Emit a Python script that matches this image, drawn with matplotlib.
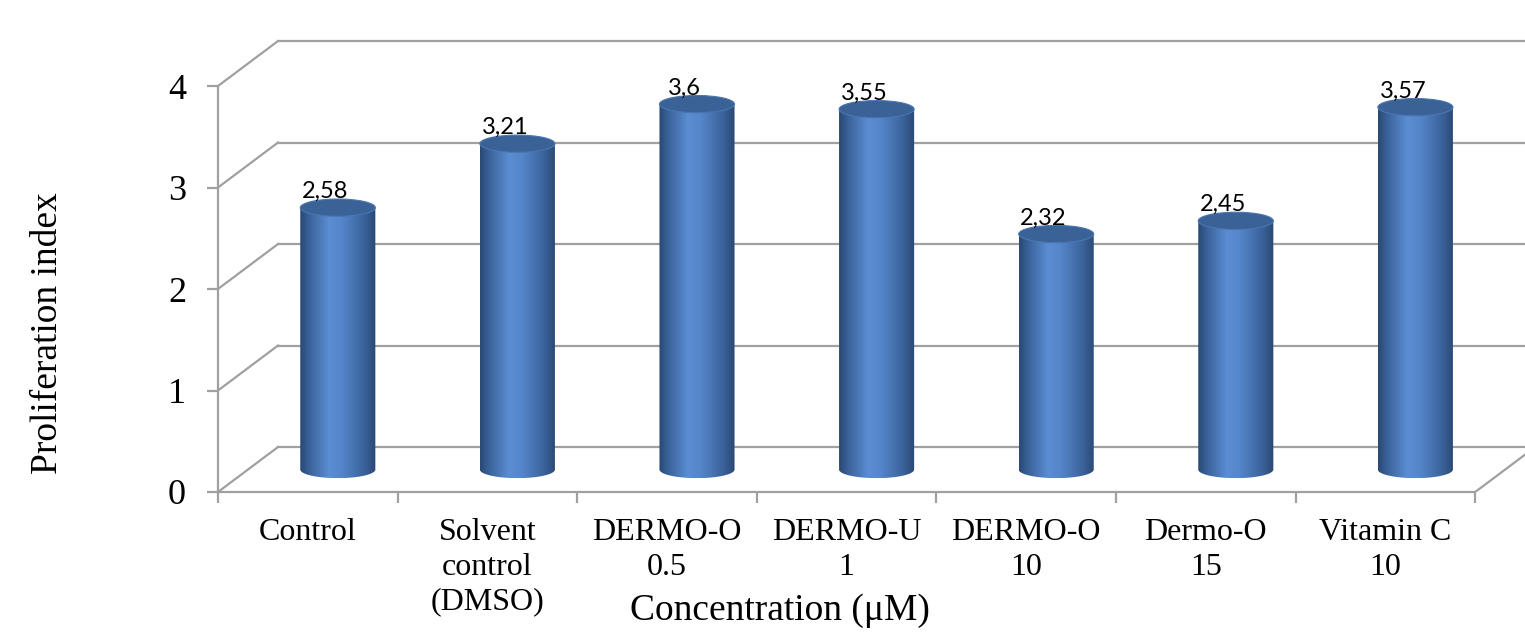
import numpy as np
import matplotlib.pyplot as plt
from matplotlib.patches import Ellipse, PathPatch
from matplotlib.path import Path
from matplotlib.colors import LinearSegmentedColormap

# data
categories = ["Control", "Solvent\ncontrol\n(DMSO)", "DERMO-O\n0.5", "DERMO-U\n1",
              "DERMO-O\n10", "Dermo-O\n15", "Vitamin C\n10"]
values = [2.58, 3.21, 3.6, 3.55, 2.32, 2.45, 3.57]
value_labels = ["2,58", "3,21", "3,6", "3,55", "2,32", "2,45", "3,57"]
y_ticks = [0, 1, 2, 3, 4]

# fake 3D depth (in data units)
dx, dy = 0.334, 0.443
cyl_w = 0.418
ell_h = 0.085
grid_col = "#a0a0a0"
serif = "Liberation Serif"

body_cmap = LinearSegmentedColormap.from_list("cyl", [
    (0.0, "#2a4873"), (0.12, "#3a629a"), (0.38, "#5a8dd2"),
    (0.55, "#5586ca"), (0.85, "#3a629a"), (1.0, "#2a4873")])

fig = plt.figure(figsize=(15.25, 6.36), dpi=100)
ax = fig.add_axes([218 / 1525, 144 / 636, 1307 / 1525, 462 / 636])
n = len(categories)
xmax = 1307 / 179.6
ymax = 462 / 101.5

# back wall grid + side diagonals
for v in y_ticks:
    ax.plot([dx, xmax], [v + dy, v + dy], color=grid_col, lw=1.6, zorder=1)
    ax.plot([0, dx], [v, v + dy], color=grid_col, lw=1.6, zorder=1)
# floor right edge
ax.plot([n, n + dx], [0, dy], color=grid_col, lw=1.6, zorder=1)

# cylinders
grad = np.linspace(0, 1, 256).reshape(1, -1)
for i, v in enumerate(values):
    cx = i + 0.5 + dx / 2
    base = dy / 2
    top = base + v
    xl, xr = cx - cyl_w / 2, cx + cyl_w / 2
    t = np.linspace(0, np.pi, 60)
    arc_x = cx + cyl_w / 2 * np.cos(t)
    arc_y = base - ell_h * np.sin(t)
    verts = [(xl, top), (xr, top)] + list(zip(arc_x, arc_y)) + [(xl, top)]
    clip = PathPatch(Path(verts), transform=ax.transData, fc="none", ec="none")
    ax.add_patch(clip)
    im = ax.imshow(grad, cmap=body_cmap, aspect="auto",
                   extent=[xl, xr, base - ell_h, top], zorder=3)
    im.set_clip_path(clip)
    ax.add_patch(Ellipse((cx, top), cyl_w, 2 * ell_h, fc="#3b6296",
                         ec="#4a76b0", lw=0.8, zorder=4))
    ax.text(cx - 0.07, top + ell_h + 0.01, value_labels[i], ha="center",
            va="baseline", fontsize=17, family="Lato", color="black", zorder=5)

ax.set_xlim(0, xmax)
ax.set_ylim(0, ymax)

for s in ["top", "right"]:
    ax.spines[s].set_visible(False)
for s in ["left", "bottom"]:
    ax.spines[s].set_color(grid_col)
    ax.spines[s].set_linewidth(1.6)
ax.spines["left"].set_bounds(0, 4)
ax.spines["bottom"].set_bounds(0, n)

ax.set_yticks(y_ticks)
ax.set_yticklabels([str(v) for v in y_ticks], fontsize=26, family=serif)
ax.tick_params(axis="y", length=8, width=1.6, color=grid_col, pad=15)

ax.set_xticks(np.arange(n + 1))
ax.set_xticklabels([])
ax.set_xticks(np.arange(n) + 0.5, minor=True)
ax.set_xticklabels(categories, minor=True, fontsize=23, family=serif, linespacing=1.24)
ax.tick_params(axis="x", which="major", length=8, width=1.6, color=grid_col)
ax.tick_params(axis="x", which="minor", length=0, pad=19)

fig.text(48 / 1525, 1 - 333 / 636, "Proliferation index", rotation=90,
         ha="center", va="center", fontsize=27, family=serif)
fig.text(780 / 1525, 1 - 611 / 636, "Concentration (\u03bcM)",
         ha="center", va="center", fontsize=27, family=serif)

fig.savefig("out.png", dpi=100, facecolor="white")
